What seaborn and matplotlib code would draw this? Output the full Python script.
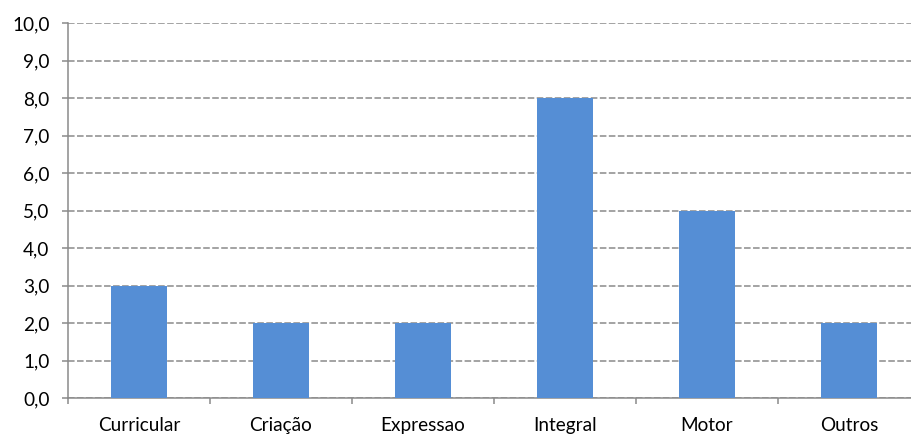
import matplotlib
matplotlib.use("Agg")
import matplotlib.pyplot as plt
import seaborn as sns
import pandas as pd
from matplotlib.ticker import FuncFormatter, FixedLocator

categories = ["Curricular", "Criação", "Expressao", "Integral", "Motor", "Outros"]
values = [3.0, 2.0, 2.0, 8.0, 5.0, 2.0]
y_ticks = [0, 1, 2, 3, 4, 5, 6, 7, 8, 9, 10]

df = pd.DataFrame({"cat": categories, "val": values})

sns.set_style("white")
plt.rcParams['font.family'] = ['Lato', 'DejaVu Sans']

W, H = 912, 434
fig = plt.figure(figsize=(W / 100, H / 100), dpi=100)
left, right, top, bottom = 68, 920, 23, 398
ax = fig.add_axes([left / W, 1 - bottom / H, (right - left) / W, (bottom - top) / H])

sns.barplot(data=df, x="cat", y="val", color="#558ED5", saturation=1, width=0.40,
            linewidth=0, edgecolor="none", ax=ax, zorder=3)

ax.set_ylim(0, 10)
ax.set_xlim(-0.5, len(categories) - 0.5)
ax.set_yticks(y_ticks)
ax.yaxis.set_major_formatter(FuncFormatter(lambda v, p: f"{v:.1f}".replace(".", ",")))
ax.yaxis.grid(True, color="#8a8a8a", linestyle=(0, (4.3, 1.6)), linewidth=1.1, zorder=0)
ax.set_axisbelow(True)

ax.set_xlabel("")
ax.set_ylabel("")
for s in ["top", "right"]:
    ax.spines[s].set_visible(False)
for s in ["left", "bottom"]:
    ax.spines[s].set_color("#8a8a8a")
    ax.spines[s].set_linewidth(1.1)

ax.tick_params(axis="y", which="major", length=4.3, width=1.1, color="#8a8a8a", labelsize=13.7, pad=9, left=True)
ax.xaxis.set_minor_locator(FixedLocator([i + 0.5 for i in range(-1, len(categories))]))
ax.tick_params(axis="x", which="major", length=0, labelsize=13.7, pad=14)
ax.tick_params(axis="x", which="minor", length=4, width=1.1, color="#8a8a8a", bottom=True)

for t in ax.get_yticklabels() + ax.get_xticklabels():
    t.set_color("black")

fig.savefig("out.png", dpi=100)
